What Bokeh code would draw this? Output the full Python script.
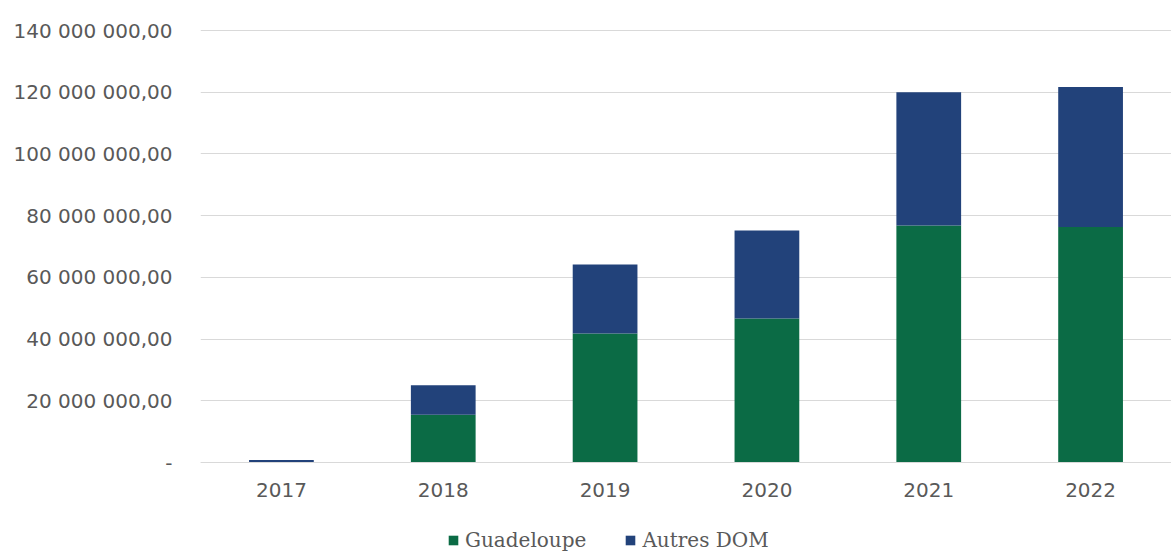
from bokeh.plotting import figure
from bokeh.models import ColumnDataSource, CustomJSTickFormatter, Legend, LegendItem, Range1d, FactorRange
from bokeh.embed import file_html
from bokeh.resources import INLINE

years = ["2017", "2018", "2019", "2020", "2021", "2022"]
guadeloupe = [0, 15500000, 41800000, 46700000, 76800000, 76300000]
autres_dom = [800000, 9500000, 22400000, 28500000, 43200000, 45400000]
y_ticks = [0, 20000000, 40000000, 60000000, 80000000, 100000000, 120000000, 140000000]

src = ColumnDataSource(dict(year=years, Guadeloupe=guadeloupe, Autres=autres_dom))

per_px = 140000000 / 432
p = figure(x_range=FactorRange(*years), y_range=Range1d(-91 * per_px, 140000000 + per_px),
           frame_width=971, frame_height=524, output_backend="svg", toolbar_location=None,
           min_border_left=200, min_border_right=0, min_border_top=29, min_border_bottom=0)

r = p.vbar_stack(["Guadeloupe", "Autres"], x="year", width=0.4, source=src,
                 color=["#0B6B45", "#22427A"], line_color=None)

p.outline_line_color = None
p.xgrid.grid_line_color = None
p.ygrid.grid_line_color = "#d9d9d9"
p.ygrid.grid_line_width = 1

p.yaxis.ticker = y_ticks
p.yaxis.formatter = CustomJSTickFormatter(code="""
if (tick == 0) { return '-'; }
var s = Math.round(tick).toString();
var out = '';
while (s.length > 3) { out = ' ' + s.slice(-3) + out; s = s.slice(0, -3); }
return s + out + ',00';
""")
p.yaxis.axis_line_color = None
p.yaxis.major_tick_line_color = None
p.yaxis.minor_tick_line_color = None
p.yaxis.major_tick_out = 0
p.yaxis.major_tick_in = 0
p.yaxis.major_label_standoff = 28
p.yaxis.major_label_text_font = "DejaVu Sans"
p.yaxis.major_label_text_font_size = "20px"
p.yaxis.major_label_text_color = "#595959"

p.xaxis.fixed_location = 0
p.xaxis.axis_line_color = "#d9d9d9"
p.xaxis.major_tick_line_color = None
p.xaxis.minor_tick_line_color = None
p.xaxis.major_tick_out = 0
p.xaxis.major_tick_in = 0
p.xaxis.major_label_standoff = 20
p.xaxis.major_label_text_font = "DejaVu Sans"
p.xaxis.major_label_text_font_size = "20px"
p.xaxis.major_label_text_color = "#595959"

legend = Legend(items=[LegendItem(label="Guadeloupe", renderers=[r[0]]),
                       LegendItem(label="Autres DOM", renderers=[r[1]])],
                orientation="horizontal", location=(247, 1),
                label_text_font="DejaVu Serif", label_text_font_size="20px",
                label_text_color="#595959", glyph_width=12, glyph_height=12,
                spacing=38, border_line_color=None, background_fill_alpha=0,
                margin=0, padding=0, label_standoff=6)
p.add_layout(legend, "center")

open("out.html", "w").write(file_html(p, INLINE))
